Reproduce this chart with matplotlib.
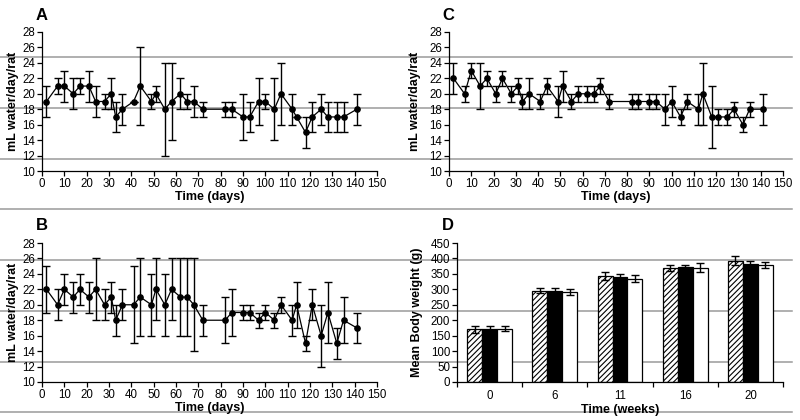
import matplotlib
matplotlib.use("Agg")
import matplotlib.pyplot as plt
from matplotlib.lines import Line2D
import numpy as np

plt.rcParams['font.family'] = ['Liberation Sans', 'DejaVu Sans']
plt.rcParams['hatch.linewidth'] = 0.8

# ---- data ----
days = [2, 7, 10, 14, 17, 21, 24, 28, 31, 33, 36, 41, 44, 49, 51, 55, 58, 62, 65, 68,
        72, 82, 85, 90, 93, 97, 100, 104, 107, 112, 114, 118, 121, 125, 128, 132, 135, 141]

water_A = [19, 21, 21, 20, 21, 21, 19, 19, 20, 17, 18, 19, 21, 19, 20, 18, 19, 20, 19, 19,
           18, 18, 18, 17, 17, 19, 19, 18, 20, 18, 17, 15, 17, 18, 17, 17, 17, 18]
err_A = [2, 1, 2, 2, 1, 2, 2, 1, 2, 2, 2, 0, 5, 1, 1, 6, 5, 2, 1, 2,
         1, 1, 1, 3, 2, 3, 1, 4, 4, 2, 0, 2, 2, 2, 2, 2, 2, 2]

water_B = [22, 20, 22, 21, 22, 21, 22, 20, 21, 18, 20, 20, 21, 20, 22, 20, 22, 21, 21, 20,
           18, 18, 19, 19, 19, 18, 19, 18, 20, 18, 20, 15, 20, 16, 19, 15, 18, 17]
err_B = [3, 2, 2, 2, 2, 2, 4, 2, 2, 2, 2, 5, 5, 4, 4, 4, 4, 5, 5, 6,
         2, 3, 3, 1, 1, 1, 1, 1, 1, 2, 3, 1, 2, 4, 4, 2, 3, 2]

water_C = [22, 20, 23, 21, 22, 20, 22, 20, 21, 19, 20, 19, 21, 19, 21, 19, 20, 20, 20, 21,
           19, 19, 19, 19, 19, 18, 19, 17, 19, 18, 20, 17, 17, 17, 18, 16, 18, 18]
err_C = [2, 1, 1, 3, 1, 1, 1, 1, 1, 1, 2, 1, 1, 2, 2, 1, 1, 1, 1, 1,
         1, 1, 1, 1, 1, 2, 2, 1, 1, 2, 4, 4, 1, 1, 1, 1, 1, 2]

weeks = ['0', '6', '11', '16', '20']
bw_hatched = [170, 295, 343, 368, 393]
bw_hatched_err = [10, 8, 12, 10, 15]
bw_black = [173, 293, 340, 372, 382]
bw_black_err = [8, 10, 10, 8, 10]
bw_white = [173, 292, 335, 370, 378]
bw_white_err = [8, 10, 12, 15, 10]

# ---- figure ----
W, H = 800, 420
fig = plt.figure(figsize=(8, 4.2), dpi=100)

def rect(l, r, t, b):
    return [l / W, 1 - b / H, (r - l) / W, (b - t) / H]

axA = fig.add_axes(rect(42, 377, 32, 171))
axC = fig.add_axes(rect(449, 783, 32, 171))
axB = fig.add_axes(rect(42, 377, 243, 382))
axD = fig.add_axes(rect(457, 783, 243, 382))

TICK_FS = 8.3
LAB_FS = 9

def style(ax):
    ax.set_facecolor('none')
    for s in ['top', 'right']:
        ax.spines[s].set_visible(False)
    for s in ['left', 'bottom']:
        ax.spines[s].set_linewidth(0.9)
    ax.tick_params(direction='out', length=3.5, width=0.9, labelsize=TICK_FS, pad=1.5)

def line_panel(ax, y, e, ylab_x=-0.07):
    style(ax)
    ax.errorbar(days, y, yerr=e, fmt='-o', color='black', ms=3.8, lw=0.9,
                elinewidth=1.0, capsize=3, capthick=1.0)
    ax.set_xlim(0, 150)
    ax.set_ylim(10, 28)
    ax.set_xticks(np.arange(0, 151, 10))
    ax.set_yticks(np.arange(10, 29, 2))
    ax.set_xlabel('Time (days)', fontsize=LAB_FS, fontweight='bold', labelpad=1)
    ax.set_ylabel('mL water/day/rat', fontsize=LAB_FS, fontweight='bold')
    ax.yaxis.set_label_coords(ylab_x, 0.5)

line_panel(axA, water_A, err_A)
line_panel(axB, water_B, err_B)
line_panel(axC, water_C, err_C, ylab_x=-0.084)

# bar panel
style(axD)
x = np.arange(len(weeks))
bwid = 0.23
kw = dict(edgecolor='black', linewidth=0.9,
          error_kw=dict(elinewidth=1.0, capsize=3, capthick=1.0, ecolor='black'))
axD.bar(x - bwid, bw_hatched, bwid, yerr=bw_hatched_err, color='white', hatch='//////', **kw)
axD.bar(x, bw_black, bwid, yerr=bw_black_err, color='black', **kw)
axD.bar(x + bwid, bw_white, bwid, yerr=bw_white_err, color='white', **kw)
axD.set_xlim(-0.5, 4.5)
axD.set_ylim(0, 450)
axD.set_yticks(np.arange(0, 451, 50))
axD.set_xticks(x)
axD.set_xticklabels(weeks)
axD.tick_params(axis='x', which='major', length=0, pad=6)
axD.set_xticks(np.arange(-0.5, 4.6, 1), minor=True)
axD.tick_params(axis='x', which='minor', direction='out', length=3.5, width=0.9)
axD.set_xlabel('Time (weeks)', fontsize=LAB_FS, fontweight='bold', labelpad=1)
axD.set_ylabel('Mean Body weight (g)', fontsize=LAB_FS, fontweight='bold')
axD.yaxis.set_label_coords(-0.104, 0.5)

# panel letters
for lx, ly, t in [(42, 15, 'A'), (42, 225, 'B'), (448, 15, 'C'), (448, 225, 'D')]:
    fig.text(lx / W, 1 - ly / H, t, ha='center', va='center', fontsize=12, fontweight='bold')

# gray horizontal page lines
for yp in [57, 108, 159, 209, 260, 311, 362, 412]:
    fig.add_artist(Line2D([0, 792 / W], [1 - yp / H, 1 - yp / H], transform=fig.transFigure,
                          color='#9a9a9a', lw=1.1, zorder=-1))

fig.savefig('out.png', dpi=100, facecolor='white')
